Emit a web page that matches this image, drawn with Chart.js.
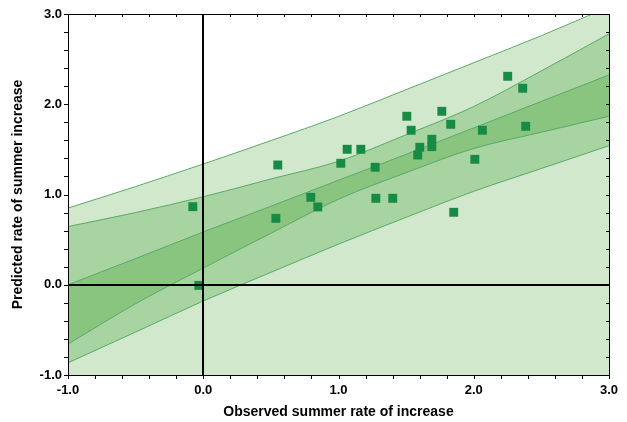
<!DOCTYPE html>
<html>
<head>
<meta charset="utf-8">
<script src="https://cdn.jsdelivr.net/npm/chart.js@4/dist/chart.umd.min.js"></script>
<style>
  html, body { margin: 0; padding: 0; background: #fff; }
  #wrap { width: 627px; height: 422px; }
</style>
</head>
<body>
<div id="wrap"><canvas id="c"></canvas></div>
<script>
// Band curves sampled along the x axis
const bandX      = [-1, -0.5, 0, 0.5, 1, 1.5, 2, 2.5, 3];
const predUpper  = [0.85, 1.088, 1.338, 1.597, 1.865, 2.162, 2.46, 2.76, 3.08];
const confUpper  = [0.645, 0.80, 0.975, 1.172, 1.368, 1.662, 1.975, 2.37, 2.78];
const fitLine    = [0.0, 0.29, 0.585, 0.87, 1.158, 1.445, 1.738, 2.032, 2.325];
const confLower  = [-0.657, -0.21, 0.185, 0.57, 0.948, 1.242, 1.51, 1.69, 1.867];
const predLower  = [-0.865, -0.524, -0.18, 0.137, 0.45, 0.747, 1.035, 1.288, 1.541];

// Observed vs predicted points
const obsX  = [-0.077, -0.033, 0.551, 0.537, 0.795, 0.847, 1.017, 1.064, 1.165, 1.271, 1.276, 1.401, 1.505,
               1.537, 1.586, 1.601, 1.690, 1.690, 1.764, 1.830, 1.852, 2.008, 2.064, 2.251, 2.362, 2.384];
const predY = [0.865, -0.007, 1.327, 0.736, 0.969, 0.862, 1.346, 1.501, 1.501, 1.302, 0.958, 0.958, 1.867,
               1.712, 1.438, 1.523, 1.612, 1.530, 1.922, 1.778, 0.803, 1.390, 1.712, 2.310, 2.177, 1.756];

const axisMin = -1, axisMax = 3, tickStep = 0.2;
const xTitle = 'Observed summer rate of increase';
const yTitle = 'Predicted rate of summer increase';

const LIGHT = '#d1e8cd', MID = '#a7d4a1', DARK = '#89c57e', EDGE = '#5aa96b', PT = '#178a46';

const toPts = (ys) => bandX.map((x, i) => ({ x, y: ys[i] }));
function band(ys, color, order) {
  return {
    type: 'line', data: toPts(ys), order,
    borderColor: EDGE, borderWidth: 1, backgroundColor: color,
    fill: 'start', pointRadius: 0, tension: 0, cubicInterpolationMode: 'monotone'
  };
}

const overlay = {
  id: 'overlay',
  afterDatasetsDraw(chart) {
    const { ctx, chartArea: a, scales: { x, y } } = chart;
    ctx.save();
    ctx.strokeStyle = '#000';
    // zero lines
    ctx.lineWidth = 2;
    const x0 = Math.round(x.getPixelForValue(0)), y0 = Math.round(y.getPixelForValue(0));
    ctx.beginPath();
    ctx.moveTo(x0, a.top); ctx.lineTo(x0, a.bottom);
    ctx.moveTo(a.left, y0); ctx.lineTo(a.right, y0);
    ctx.stroke();
    // frame
    ctx.lineWidth = 1;
    ctx.strokeRect(Math.round(a.left) + 0.5, Math.round(a.top) + 0.5,
                   Math.round(a.right - a.left), Math.round(a.bottom - a.top));
    // ticks
    ctx.beginPath();
    x.ticks.forEach(t => {
      const px = Math.round(x.getPixelForValue(t.value)) + 0.5;
      ctx.moveTo(px, a.bottom); ctx.lineTo(px, a.bottom + 4);
      ctx.moveTo(px, a.top); ctx.lineTo(px, a.top + 3);
    });
    y.ticks.forEach(t => {
      const py = Math.round(y.getPixelForValue(t.value)) + 0.5;
      ctx.moveTo(a.left - 4, py); ctx.lineTo(a.left, py);
      ctx.moveTo(a.right - 3, py); ctx.lineTo(a.right, py);
    });
    ctx.stroke();
    ctx.restore();
  }
};

const isMajor = (v) => Math.abs(v - Math.round(v)) < 1e-6;
const tickFont = { family: '"Liberation Sans", Arial, sans-serif', size: 13, weight: 'bold' };
const titleFont = { family: '"Liberation Sans", Arial, sans-serif', size: 14, weight: 'bold' };

new Chart(document.getElementById('c'), {
  data: {
    datasets: [
      band(predUpper, LIGHT, 10),
      band(confUpper, MID, 9),
      band(fitLine, DARK, 8),
      band(confLower, MID, 7),
      band(predLower, LIGHT, 6),
      {
        type: 'scatter', order: 0,
        data: obsX.map((x, i) => ({ x, y: predY[i] })),
        pointStyle: 'rect', pointRadius: 6.3, pointHoverRadius: 6.3,
        backgroundColor: PT, borderWidth: 0
      }
    ]
  },
  options: {
    responsive: true, maintainAspectRatio: false, animation: false,
    devicePixelRatio: 1,
    layout: { padding: { top: 14, right: 18, bottom: 0, left: 0 } },
    plugins: { legend: { display: false }, tooltip: { enabled: false } },
    scales: {
      x: {
        type: 'linear', min: axisMin, max: axisMax,
        afterFit: (s) => { s.height = 47; },
        grid: { display: false, drawTicks: false },
        border: { display: false },
        ticks: {
          stepSize: tickStep, autoSkip: false, maxRotation: 0, padding: 8,
          color: '#000', font: tickFont,
          callback: (v) => isMajor(v) ? Math.round(v).toFixed(1) : ''
        },
        title: { display: true, text: xTitle, color: '#000', font: titleFont, padding: { top: 0, bottom: 1 } }
      },
      y: {
        type: 'linear', min: axisMin, max: axisMax,
        afterFit: (s) => { s.width = 68; },
        grid: { display: false, drawTicks: false },
        border: { display: false },
        ticks: {
          stepSize: tickStep, autoSkip: false, padding: 6,
          color: '#000', font: tickFont,
          callback: (v) => isMajor(v) ? Math.round(v).toFixed(1) : ''
        },
        title: { display: true, text: yTitle, color: '#000', font: titleFont, padding: { top: 10, bottom: 0 } }
      }
    }
  },
  plugins: [overlay]
});
</script>
</body>
</html>
